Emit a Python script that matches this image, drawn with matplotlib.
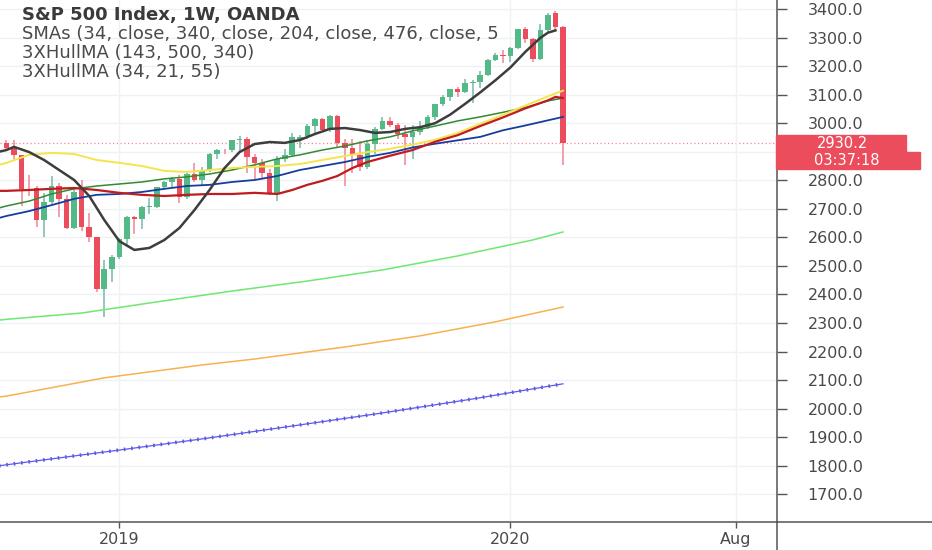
import numpy as np
import pandas as pd
import matplotlib
matplotlib.use('Agg')
import matplotlib.pyplot as plt
import matplotlib.transforms as mtransforms
from matplotlib.patches import Rectangle
from matplotlib.lines import Line2D

# weekly bars, S&P 500 (OANDA), Sep 2018 - Feb 2020
weeks = pd.date_range('2018-09-24', periods=75, freq='W-MON')

opens = [2930, 2916, 2888, 2770, 2773, 2662, 2725, 2781, 2736, 2633,
         2772, 2638, 2600, 2418, 2490, 2532, 2596, 2672, 2665, 2707,
         2708, 2775, 2795, 2806, 2743, 2822, 2801, 2836, 2893, 2907,
         2905, 2940, 2946, 2881, 2860, 2826, 2752, 2873, 2887, 2944,
         2955, 2990, 3014, 2976, 3025, 2930, 2912, 2889, 2847, 2926,
         2979, 3007, 2992, 2961, 2952, 2970, 2986, 3023, 3067, 3093,
         3120, 3110, 3141, 3146, 3169, 3221, 3240, 3235, 3265, 3329,
         3295, 3225, 3327, 3385, 3338]
highs = [2940, 2940, 2890, 2820, 2780, 2756, 2815, 2790, 2747, 2770,
         2800, 2685, 2601, 2520, 2538, 2597, 2675, 2675, 2709, 2738,
         2776, 2798, 2813, 2817, 2830, 2860, 2846, 2894, 2910, 2910,
         2940, 2954, 2950, 2892, 2876, 2841, 2884, 2910, 2964, 2959,
         2996, 3017, 3018, 3028, 3029, 2945, 2943, 2939, 2940, 2985,
         3020, 3022, 3002, 2993, 2993, 3008, 3027, 3067, 3097, 3121,
         3127, 3154, 3150, 3183, 3226, 3247, 3258, 3268, 3329, 3337,
         3300, 3347, 3385, 3393, 3340]
lows = [2903, 2874, 2710, 2745, 2635, 2603, 2717, 2670, 2631, 2631,
        2621, 2583, 2408, 2320, 2443, 2524, 2570, 2612, 2631, 2681,
        2703, 2768, 2775, 2722, 2735, 2795, 2785, 2830, 2873, 2893,
        2898, 2900, 2825, 2801, 2805, 2750, 2728, 2865, 2880, 2912,
        2945, 2963, 2975, 2970, 2914, 2780, 2825, 2834, 2840, 2891,
        2975, 2985, 2946, 2855, 2874, 2960, 2980, 3010, 3060, 3077,
        3091, 3105, 3070, 3123, 3165, 3218, 3212, 3213, 3260, 3280,
        3214, 3220, 3315, 3328, 2855]
closes = [2914, 2888, 2770, 2767, 2660, 2723, 2781, 2736, 2633, 2760,
          2638, 2600, 2418, 2490, 2532, 2596, 2670, 2665, 2707, 2708,
          2775, 2793, 2804, 2743, 2822, 2801, 2834, 2893, 2907, 2905,
          2940, 2946, 2881, 2860, 2826, 2752, 2873, 2887, 2950, 2950,
          2990, 3014, 2976, 3025, 2932, 2912, 2889, 2847, 2926, 2979,
          3007, 2992, 2961, 2952, 2970, 2986, 3023, 3067, 3093, 3120,
          3110, 3141, 3146, 3169, 3221, 3240, 3235, 3265, 3329, 3295,
          3225, 3327, 3380, 3338, 2930.2]

# indicator lines, read at selected bars (index -1 = left edge of chart)
hull_idx = [-1, 0, 1, 3, 5, 7, 9, 11, 13, 15, 17, 19, 21, 23, 25, 27, 29, 31, 33, 35,
            37, 39, 41, 43, 45, 47, 49, 51, 53, 55, 57, 59, 61, 63, 65, 67, 69, 71, 72, 73]
hull_val = [2900, 2906, 2917, 2899, 2871, 2836, 2801, 2745, 2661, 2587, 2556, 2563, 2591,
            2633, 2696, 2766, 2843, 2899, 2927, 2934, 2931, 2941, 2962, 2980, 2983, 2976,
            2966, 2969, 2980, 2986, 3000, 3030, 3068, 3108, 3150, 3195, 3250, 3299, 3317, 3325]

ma_idx = [-1, 0, 3, 6, 9, 12, 15, 18, 21, 24, 27, 30, 33, 36, 39, 42, 45, 48, 51, 54,
          57, 60, 63, 66, 69, 72, 74]
sma_yellow = [2854, 2861, 2889, 2896, 2892, 2871, 2861, 2850, 2833, 2829, 2836, 2843, 2847,
              2850, 2857, 2871, 2885, 2899, 2910, 2925, 2942, 2966, 2998, 3029, 3062, 3094, 3114]
sma_green = [2703, 2710, 2727, 2752, 2770, 2780, 2787, 2794, 2805, 2812, 2822, 2836, 2854,
             2875, 2889, 2906, 2920, 2938, 2952, 2973, 2990, 3008, 3022, 3038, 3055, 3078, 3088]
sma_blue = [2668, 2675, 2692, 2713, 2735, 2749, 2752, 2759, 2770, 2780, 2784, 2794, 2801,
            2815, 2836, 2850, 2864, 2882, 2896, 2915, 2928, 2940, 2952, 2975, 2992, 3010, 3022]

red_idx = [-1, 0, 3, 6, 9, 12, 15, 18, 21, 24, 27, 30, 33, 36, 38, 40, 42, 44, 46, 48,
           51, 54, 57, 60, 63, 66, 69, 72, 73, 74]
sma_red = [2763, 2763, 2766, 2770, 2773, 2766, 2756, 2749, 2745, 2749, 2752, 2752, 2756,
           2752, 2766, 2784, 2798, 2815, 2843, 2864, 2886, 2906, 2935, 2958, 2990, 3020,
           3052, 3080, 3092, 3088]

lime_idx = [-1, 0, 10, 20, 30, 40, 50, 60, 70, 74]
hull_lime = [2310, 2313, 2335, 2374, 2412, 2447, 2486, 2535, 2591, 2619]
orange_idx = [-1, 0, 13, 26, 33, 45, 55, 65, 74]
hull_orange = [2041, 2044, 2108, 2153, 2174, 2216, 2255, 2304, 2356]
violet_idx = [-1, 15, 26, 39, 50, 62, 74]
hull_violet = [1800, 1855, 1894, 1943, 1985, 2034, 2087]

price_ticks = list(range(1700, 3500, 100))
countdown = '03:37:18'

UP, DOWN = '#53b987', '#eb4d5c'
UP_WICK, DOWN_WICK = '#8cc2b6', '#f09aa4'
AXIS = '#555555'
TXT = '#4a4a4a'

W, H = 932, 550
fig = plt.figure(figsize=(W / 100, H / 100), dpi=100)
fig.patch.set_facecolor('white')
ax = fig.add_axes([0, 28 / H, 777 / W, 522 / H])

o = np.array(opens, dtype=float)
c = np.array(closes, dtype=float)
hi = np.array(highs, dtype=float)
lo = np.array(lows, dtype=float)
x = np.arange(len(weeks))
up = c >= o
bottom = np.minimum(o, c)
height = np.maximum(np.abs(c - o), 2.5)

ax.vlines(x[up], lo[up], hi[up], color=UP_WICK, lw=1.3, zorder=2.5)
ax.vlines(x[~up], lo[~up], hi[~up], color=DOWN_WICK, lw=1.3, zorder=2.5)
ax.bar(x[up], height[up], bottom=bottom[up], width=0.74, color=UP, zorder=3)
ax.bar(x[~up], height[~up], bottom=bottom[~up], width=0.74, color=DOWN, zorder=3)

# moving averages
ax.plot(lime_idx, hull_lime, color='#6ee86e', lw=1.1, zorder=4)
ax.plot(orange_idx, hull_orange, color='#f6b24e', lw=1.1, zorder=4)
ax.plot(violet_idx, hull_violet, color='#5a5ae6', lw=0.9, zorder=4)
ax.plot(violet_idx, hull_violet, color='#5a5ae6', lw=2.6, zorder=4,
        dashes=(0.45, 1.6))
ax.plot(ma_idx, sma_green, color='#338a33', lw=1.1, zorder=4)
ax.plot(ma_idx, sma_blue, color='#173d9c', lw=1.3, zorder=4)
ax.plot(ma_idx, sma_yellow, color='#f5e44c', lw=1.4, zorder=4)
ax.plot(red_idx, sma_red, color='#c01b1f', lw=1.6, zorder=4.1)
ax.plot(hull_idx, hull_val, color='#3d3d3d', lw=1.8, zorder=4.2)

last = closes[-1]
ax.axhline(last, color='#f08896', lw=0.9, ls=(0, (1, 2)), zorder=1.5)

ax.set_xlim(-0.864, 102.46)
ax.set_ylim(1603, 3431.5)

# time axis: first bar of each year plus August
ext = pd.date_range(weeks[0], periods=110, freq='W-MON')
t2019 = int(np.argmax(ext.year == 2019))
t2020 = int(np.argmax(ext.year == 2020))
taug = int(np.argmax((ext.year == 2020) & (ext.month == 8)))
ax.set_xticks([t2019, t2020, taug])
ax.set_xticklabels(['2019', '2020', 'Aug'])
ax.set_yticks(price_ticks)
# the 2900 label sits under the last-price box
ax.set_yticklabels(['' if p == 2900 else f'{p:.1f}' for p in price_ticks])
ax.yaxis.tick_right()

ax.grid(True, color='#eff1f4', lw=1, zorder=0)
for s in ['top', 'left']:
    ax.spines[s].set_visible(False)
for s in ['right', 'bottom']:
    ax.spines[s].set_color(AXIS)
    ax.spines[s].set_linewidth(1.1)
ax.tick_params(axis='y', length=7, width=1, color=AXIS, labelcolor=TXT,
               labelsize=11.5, pad=15)
ax.tick_params(axis='x', length=4, width=1, color=AXIS, labelcolor=TXT,
               labelsize=11.5, pad=3)

# axis lines running on into the corner
fig.add_artist(Line2D([777 / W, 1], [28 / H, 28 / H], transform=fig.transFigure,
                      color=AXIS, lw=1.1))
fig.add_artist(Line2D([777 / W, 777 / W], [0, 28 / H], transform=fig.transFigure,
                      color=AXIS, lw=1.1))

# last price and countdown labels
bt = mtransforms.blended_transform_factory(fig.transFigure, ax.transData)
box_h = 59.5
gap = 3
ax.add_patch(Rectangle((776 / W, last - box_h / 2), 130 / W, box_h, transform=bt,
                       color=DOWN, clip_on=False, zorder=6))
ax.add_patch(Rectangle((776 / W, last - box_h / 2 - box_h - gap), 144 / W, box_h,
                       transform=bt, color=DOWN, clip_on=False, zorder=6))
ax.text(842 / W, last, f'{last:.1f}', transform=bt, color='white', fontsize=10.5,
        ha='center', va='center', zorder=7, clip_on=False)
ax.text(847 / W, last - box_h - gap, countdown, transform=bt, color='white',
        fontsize=10.5, ha='center', va='center', zorder=7, clip_on=False)

# legend text
legend_lines = [
    ('S&P 500 Index, 1W, OANDA', 'bold', '#3a3a3a', 15),
    ('SMAs (34, close, 340, close, 204, close, 476, close, 5', 'normal', TXT, 34),
    ('3XHullMA (143, 500, 340)', 'normal', TXT, 53),
    ('3XHullMA (34, 21, 55)', 'normal', TXT, 72),
]
for txt, wt, col, ypx in legend_lines:
    fig.text(22 / W, 1 - ypx / H, txt, fontsize=13, fontweight=wt, color=col,
             ha='left', va='center', zorder=5)

fig.savefig('out.png', dpi=100, facecolor='white')
